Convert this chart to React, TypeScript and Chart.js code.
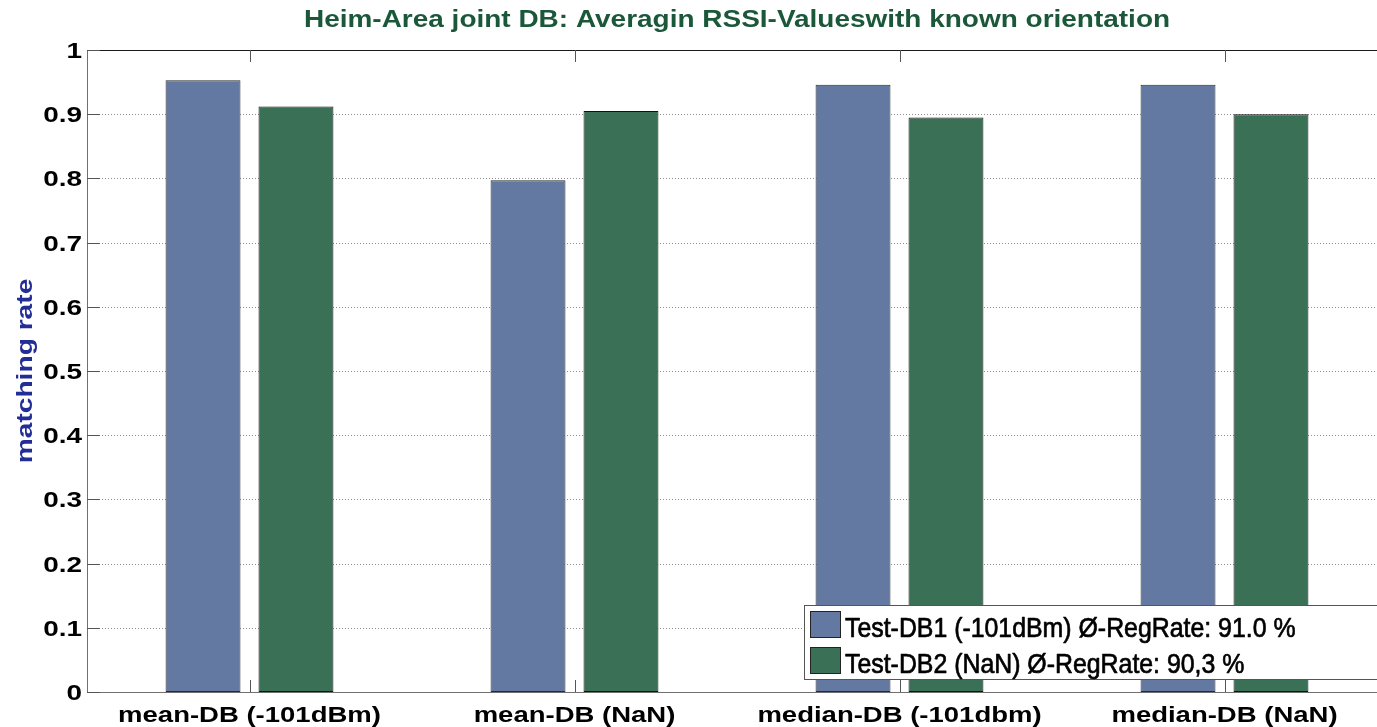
import React, { useEffect, useRef } from "react";
import { Chart, registerables } from "chart.js";

Chart.register(...registerables);

const categories = ["mean-DB (-101dBm)", "mean-DB (NaN)", "median-DB (-101dbm)", "median-DB (NaN)"];
const db1Values = [0.953, 0.797, 0.946, 0.946];
const db2Values = [0.912, 0.905, 0.895, 0.9];
const seriesLabels = ["Test-DB1 (-101dBm) Ø-RegRate: 91.0 %", "Test-DB2 (NaN) Ø-RegRate: 90,3 %"];
const yTickLabels = ["0", "0.1", "0.2", "0.3", "0.4", "0.5", "0.6", "0.7", "0.8", "0.9", "1"];
const titleText = "Heim-Area joint DB: Averagin RSSI-Valueswith known orientation";
const yTitleText = "matching rate";

const BLUE = "rgb(100,121,162)";
const GREEN = "rgb(58,112,85)";

function stretchText(ctx: CanvasRenderingContext2D, text: string, x: number, y: number, font: string, sx: number, align: CanvasTextAlign, color: string, rot = 0, thicken = 0) {
  ctx.save();
  ctx.font = font;
  ctx.fillStyle = color;
  ctx.textAlign = align;
  ctx.textBaseline = "alphabetic";
  ctx.translate(x, y);
  if (rot) ctx.rotate(rot);
  ctx.scale(sx, 1);
  ctx.fillText(text, 0, 0);
  if (thicken > 0) {
    ctx.strokeStyle = color;
    ctx.lineWidth = thicken;
    ctx.lineJoin = "round";
    ctx.strokeText(text, 0, 0);
  }
  ctx.restore();
}

const matlabPlugin = {
  id: "matlabLook",
  beforeDatasetsDraw(chart: any) {
    const ctx = chart.ctx as CanvasRenderingContext2D;
    const { left, right } = chart.chartArea;
    const ys = chart.scales.y;
    ctx.save();
    ctx.strokeStyle = "#8f8f8f";
    ctx.lineWidth = 1;
    ctx.setLineDash([1, 2]);
    yTickLabels.forEach((lab) => {
      const v = parseFloat(lab);
      if (v <= 0 || v >= 1) return;
      const py = Math.round(ys.getPixelForValue(v)) + 0.5;
      ctx.beginPath();
      ctx.moveTo(left, py);
      ctx.lineTo(right, py);
      ctx.stroke();
    });
    ctx.restore();
  },
  afterDatasetsDraw(chart: any) {
    const ctx = chart.ctx as CanvasRenderingContext2D;
    const { left, right, top, bottom } = chart.chartArea;
    const ys = chart.scales.y;
    const xs = chart.scales.x;
    ctx.save();
    ctx.lineWidth = 1;
    ctx.strokeStyle = "#1a1a1a";
    ctx.beginPath();
    ctx.moveTo(left, Math.round(top) + 0.5);
    ctx.lineTo(right, Math.round(top) + 0.5);
    ctx.stroke();
    ctx.strokeStyle = "#707070";
    ctx.beginPath();
    ctx.moveTo(Math.round(left) + 0.5, top);
    ctx.lineTo(Math.round(left) + 0.5, bottom);
    ctx.moveTo(left, Math.round(bottom) + 0.5);
    ctx.lineTo(right, Math.round(bottom) + 0.5);
    ctx.stroke();
    ctx.strokeStyle = "#555";
    yTickLabels.forEach((lab) => {
      const py = Math.round(ys.getPixelForValue(parseFloat(lab))) + 0.5;
      ctx.beginPath();
      ctx.moveTo(left, py);
      ctx.lineTo(left + 13, py);
      ctx.stroke();
    });
    categories.forEach((_, i) => {
      const px = Math.round(xs.getPixelForValue(i)) + 0.5;
      ctx.beginPath();
      ctx.moveTo(px, top);
      ctx.lineTo(px, top + 12);
      ctx.moveTo(px, bottom);
      ctx.lineTo(px, bottom - 12);
      ctx.stroke();
    });
    ctx.restore();
  },
  afterDraw(chart: any) {
    const ctx = chart.ctx as CanvasRenderingContext2D;
    const { left, right, top, bottom } = chart.chartArea;
    const ys = chart.scales.y;
    const xs = chart.scales.x;
    const axisFont = "bold 22px 'Liberation Sans', Arial, sans-serif";
    stretchText(ctx, titleText, (left + right) / 2, 27, "bold 23px 'Liberation Sans', Arial, sans-serif", 1.216, "center", "rgb(27,88,58)");
    yTickLabels.forEach((lab) => {
      const py = ys.getPixelForValue(parseFloat(lab));
      stretchText(ctx, lab, left - 5, py + 8, axisFont, 1.27, "right", "#000");
    });
    categories.forEach((c, i) => {
      const px = xs.getPixelForValue(i);
      stretchText(ctx, c, px, bottom + 30, axisFont, 1.25, "center", "#000");
    });
    stretchText(ctx, yTitleText, 32, (top + bottom) / 2, axisFont, 1.28, "center", "rgb(35,45,150)", -Math.PI / 2);
    const bx = 804.5, by = 605.5, bw = 590, bh = 74;
    ctx.save();
    ctx.fillStyle = "#fff";
    ctx.fillRect(bx, by, bw, bh);
    ctx.strokeStyle = "#555";
    ctx.lineWidth = 1;
    ctx.strokeRect(bx, by, bw, bh);
    ctx.restore();
    chart.data.datasets.forEach((ds: any, i: number) => {
      const sy = 611 + i * 36;
      ctx.save();
      ctx.fillStyle = ds.backgroundColor;
      ctx.fillRect(810, sy, 31, 27);
      ctx.strokeStyle = "#222";
      ctx.lineWidth = 1;
      ctx.strokeRect(810.5, sy + 0.5, 30, 26);
      ctx.restore();
      stretchText(ctx, ds.label, 845, sy + 25.5, "28px 'Liberation Sans', Arial, sans-serif", 0.888, "left", "#000", 0, 0.7);
    });
  },
};

export default function App() {
  const ref = useRef<HTMLCanvasElement | null>(null);
  useEffect(() => {
    if (!ref.current) return;
    const chart = new Chart(ref.current, {
      type: "bar",
      data: {
        labels: categories,
        datasets: [
          { label: seriesLabels[0], data: db1Values, backgroundColor: BLUE, borderColor: "#2a2a2a", borderWidth: 1, borderSkipped: false },
          { label: seriesLabels[1], data: db2Values, backgroundColor: GREEN, borderColor: "#111", borderWidth: 1, borderSkipped: false },
        ],
      },
      options: {
        animation: false,
        responsive: false,
        devicePixelRatio: 1,
        events: [],
        layout: { padding: { left: 87, top: 50, right: 13, bottom: 35 } },
        datasets: { bar: { categoryPercentage: 0.572, barPercentage: 0.806 } },
        plugins: { legend: { display: false }, tooltip: { enabled: false }, title: { display: false } },
        scales: {
          x: { display: false, offset: true },
          y: { display: false, min: 0, max: 1 },
        },
      },
      plugins: [matlabPlugin],
    });
    return () => chart.destroy();
  }, []);
  return (
    <div style={{ position: "fixed", left: 0, top: 0, width: 1377, height: 727, overflow: "hidden", background: "#fff" }}>
      <canvas ref={ref} width={1400} height={727} style={{ display: "block", width: 1400, height: 727 }} />
    </div>
  );
}
